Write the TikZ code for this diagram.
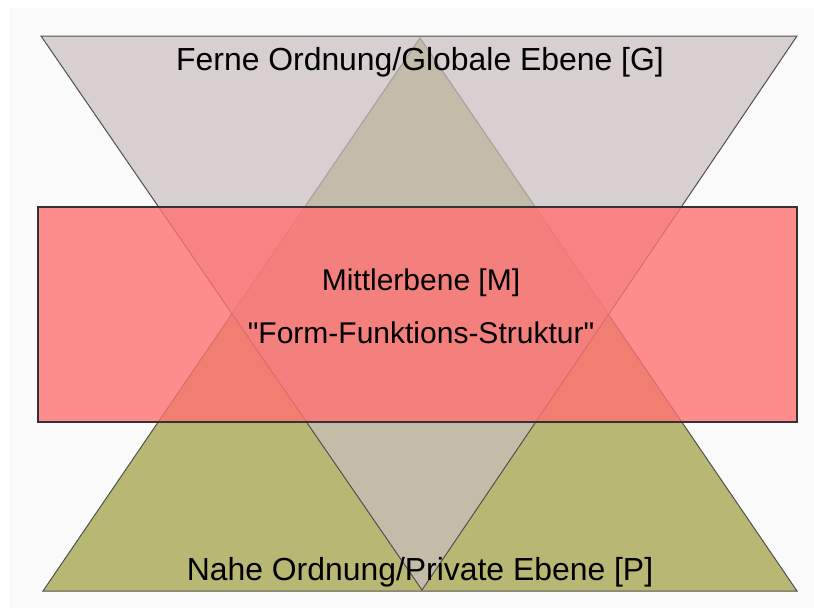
\documentclass[tikz,border=0pt]{standalone}
\usepackage{fontspec}
\setmainfont{Liberation Sans}[Ligatures=TeXOff]
\definecolor{panelbg}{HTML}{FAFAFA}
\definecolor{globgray}{RGB}{201,190,191}
\definecolor{privolive}{RGB}{184,184,116}
\definecolor{midred}{RGB}{255,113,113}
\definecolor{edgegray}{HTML}{505050}
\begin{document}
\begin{tikzpicture}[x=1pt, y=-1pt,
    tri/.style={draw=edgegray, line width=1pt, line join=miter},
    band/.style={draw=black!80, line width=1.1pt, fill=midred, fill opacity=0.8},
    lab/.style={font=\fontsize{31.9}{38}\selectfont, anchor=base, inner sep=0pt},
    midlab/.style={font=\fontsize{30}{36}\selectfont, anchor=base, inner sep=0pt}
  ]
  \useasboundingbox (0,0) rectangle (814,608);
  \fill[white] (0,0) rectangle (814,608);
  \fill[panelbg] (9,8) rectangle (814,608);
  % private level (upright) and global level (inverted)
  \draw[tri, fill=privolive] (43,591) -- (797,591) -- (420,38) -- cycle;
  \draw[tri, fill=globgray, fill opacity=0.7] (41,36) -- (797,36) -- (422,590) -- cycle;
  % middle level
  \draw[band] (38,207) rectangle (797,422);
  \node[lab] (glob) at (420,70) {Ferne Ordnung/Globale Ebene [G]};
  \node[midlab] (mid) at (421,290) {Mittlerbene [M]};
  \node[midlab] (ffs) at (421,343) {"Form-Funktions-Struktur"};
  \node[lab] (priv) at (420,580) {Nahe Ordnung/Private Ebene [P]};
\end{tikzpicture}
\end{document}
